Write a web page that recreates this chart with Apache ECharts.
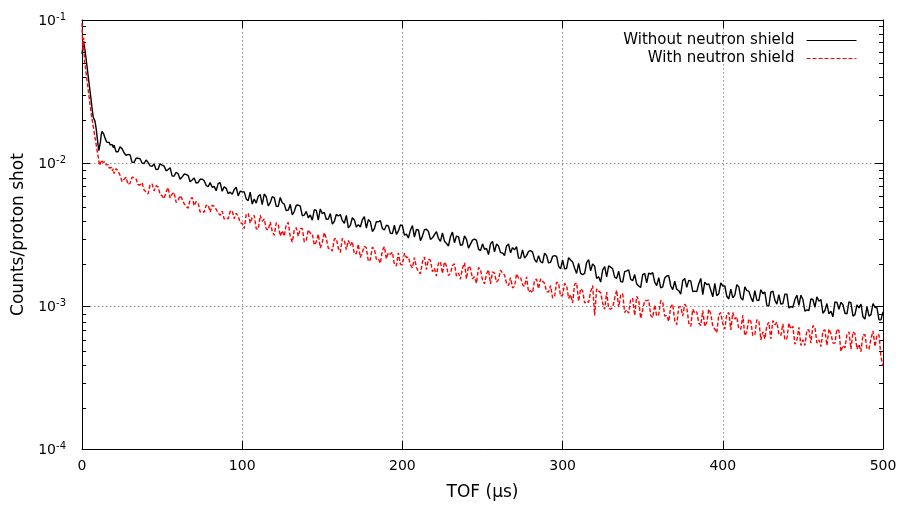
<!DOCTYPE html>
<html><head><meta charset="utf-8">
<script src="https://cdn.jsdelivr.net/npm/echarts@6/dist/echarts.min.js"></script>
<style>html,body{margin:0;padding:0;background:#fff}#c{width:901px;height:506px}</style>
</head><body><div id="c"></div>
<script>
// ---- data ----
const seriesNames = ['Without neutron shield', 'With neutron shield'];
const xTicks = [0, 100, 200, 300, 400, 500];
const yDecades = [1e-4, 1e-3, 1e-2, 1e-1];

const tofEarly = [
  0,0.5,1,1.5,2,2.5,3,3.5,4,4.5,
  5,5.5,6,6.5,7,7.5,8,8.5,9,9.5,
  10,10.5,11,11.5,12,12.5,13,13.5,14,14.5,
  15,15.5,16,16.5,17,17.5,18,18.5,19,19.5
];
const tofMain = [
  20,22.5,25,27.5,30,32.5,35,37.5,
  40,42.5,45,47.5,50,52.5,55,57.5,
  60,62.5,65,67.5,70,72.5,75,77.5,
  80,82.5,85,87.5,90,92.5,95,97.5,
  100,102.5,105,107.5,110,112.5,115,117.5,
  120,122.5,125,127.5,130,132.5,135,137.5,
  140,142.5,145,147.5,150,152.5,155,157.5,
  160,162.5,165,167.5,170,172.5,175,177.5,
  180,182.5,185,187.5,190,192.5,195,197.5,
  200,202.5,205,207.5,210,212.5,215,217.5,
  220,222.5,225,227.5,230,232.5,235,237.5,
  240,242.5,245,247.5,250,252.5,255,257.5,
  260,262.5,265,267.5,270,272.5,275,277.5,
  280,282.5,285,287.5,290,292.5,295,297.5,
  300,302.5,305,307.5,310,312.5,315,317.5,
  320,322.5,325,327.5,330,332.5,335,337.5,
  340,342.5,345,347.5,350,352.5,355,357.5,
  360,362.5,365,367.5,370,372.5,375,377.5,
  380,382.5,385,387.5,390,392.5,395,397.5,
  400,402.5,405,407.5,410,412.5,415,417.5,
  420,422.5,425,427.5,430,432.5,435,437.5,
  440,442.5,445,447.5,450,452.5,455,457.5,
  460,462.5,465,467.5,470,472.5,475,477.5,
  480,482.5,485,487.5,490,492.5,495,497.5,
  500
];
const tofMid = [
  21.25,23.75,26.25,28.75,31.25,33.75,36.25,38.75,
  41.25,43.75,46.25,48.75,51.25,53.75,56.25,58.75,
  61.25,63.75,66.25,68.75,71.25,73.75,76.25,78.75,
  81.25,83.75,86.25,88.75,91.25,93.75,96.25,98.75,
  101.25,103.75,106.25,108.75,111.25,113.75,116.25,118.75,
  121.25,123.75,126.25,128.75,131.25,133.75,136.25,138.75,
  141.25,143.75,146.25,148.75,151.25,153.75,156.25,158.75,
  161.25,163.75,166.25,168.75,171.25,173.75,176.25,178.75,
  181.25,183.75,186.25,188.75,191.25,193.75,196.25,198.75,
  201.25,203.75,206.25,208.75,211.25,213.75,216.25,218.75,
  221.25,223.75,226.25,228.75,231.25,233.75,236.25,238.75,
  241.25,243.75,246.25,248.75,251.25,253.75,256.25,258.75,
  261.25,263.75,266.25,268.75,271.25,273.75,276.25,278.75,
  281.25,283.75,286.25,288.75,291.25,293.75,296.25,298.75,
  301.25,303.75,306.25,308.75,311.25,313.75,316.25,318.75,
  321.25,323.75,326.25,328.75,331.25,333.75,336.25,338.75,
  341.25,343.75,346.25,348.75,351.25,353.75,356.25,358.75,
  361.25,363.75,366.25,368.75,371.25,373.75,376.25,378.75,
  381.25,383.75,386.25,388.75,391.25,393.75,396.25,398.75,
  401.25,403.75,406.25,408.75,411.25,413.75,416.25,418.75,
  421.25,423.75,426.25,428.75,431.25,433.75,436.25,438.75,
  441.25,443.75,446.25,448.75,451.25,453.75,456.25,458.75,
  461.25,463.75,466.25,468.75,471.25,473.75,476.25,478.75,
  481.25,483.75,486.25,488.75,491.25,493.75,496.25,498.75
];

const withoutEarly = [
  58e-3,64e-3,71e-3,69e-3,60e-3,54e-3,48.7e-3,43.8e-3,39.4e-3,35.4e-3,
  31.9e-3,28.7e-3,25.7e-3,23.2e-3,20.9e-3,20.3e-3,19.8e-3,18.5e-3,16.8e-3,15.0e-3,
  13.5e-3,12.2e-3,12.4e-3,14.0e-3,15.8e-3,16.6e-3,16.8e-3,16.0e-3,15.4e-3,14.8e-3,
  14.6e-3,14.0e-3,14.3e-3,13.7e-3,13.9e-3,13.4e-3,13.7e-3,13.1e-3,13.4e-3,12.8e-3
];
const withoutMain = [
  13.3e-3,12.0e-3,12.6e-3,11.3e-3,11.4e-3,10.1e-3,10.8e-3,10.0e-3,
  10.5e-3,9.54e-3,9.83e-3,9.04e-3,9.67e-3,8.82e-3,9.26e-3,8.10e-3,
  8.40e-3,7.97e-3,8.32e-3,7.39e-3,7.85e-3,7.31e-3,7.72e-3,6.98e-3,
  7.29e-3,6.86e-3,7.17e-3,6.34e-3,6.65e-3,6.25e-3,6.51e-3,5.89e-3,
  6.30e-3,5.61e-3,6.26e-3,5.59e-3,5.85e-3,5.11e-3,5.81e-3,5.28e-3,
  5.73e-3,4.98e-3,5.27e-3,4.64e-3,5.14e-3,4.58e-3,5.08e-3,4.28e-3,
  4.59e-3,4.33e-3,4.71e-3,3.98e-3,4.42e-3,4.03e-3,4.43e-3,3.90e-3,
  4.26e-3,3.96e-3,4.30e-3,3.66e-3,4.00e-3,3.71e-3,4.01e-3,3.51e-3,
  3.88e-3,3.47e-3,3.88e-3,3.48e-3,3.67e-3,3.22e-3,3.67e-3,3.35e-3,
  3.64e-3,3.18e-3,3.39e-3,3.03e-3,3.40e-3,3.08e-3,3.44e-3,2.92e-3,
  3.15e-3,2.97e-3,3.24e-3,2.74e-3,3.05e-3,2.77e-3,3.05e-3,2.68e-3,
  2.92e-3,2.71e-3,2.94e-3,2.50e-3,2.72e-3,2.53e-3,2.72e-3,2.39e-3,
  2.63e-3,2.35e-3,2.63e-3,2.35e-3,2.47e-3,2.16e-3,2.47e-3,2.25e-3,
  2.44e-3,2.12e-3,2.25e-3,2.00e-3,2.25e-3,2.02e-3,2.25e-3,1.90e-3,
  2.10e-3,1.83e-3,2.10e-3,1.84e-3,1.99e-3,1.66e-3,2.01e-3,1.76e-3,
  1.90e-3,1.60e-3,1.78e-3,1.60e-3,1.87e-3,1.59e-3,1.75e-3,1.47e-3,
  1.76e-3,1.54e-3,1.66e-3,1.38e-3,1.66e-3,1.45e-3,1.67e-3,1.47e-3,
  1.58e-3,1.36e-3,1.62e-3,1.38e-3,1.49e-3,1.28e-3,1.51e-3,1.35e-3,
  1.50e-3,1.27e-3,1.43e-3,1.20e-3,1.41e-3,1.29e-3,1.44e-3,1.22e-3,
  1.38e-3,1.17e-3,1.31e-3,1.19e-3,1.36e-3,1.10e-3,1.28e-3,1.15e-3,
  1.28e-3,1.09e-3,1.22e-3,1.01e-3,1.25e-3,1.10e-3,1.20e-3,1.04e-3,
  1.21e-3,0.99e-3,1.11e-3,1.01e-3,1.11e-3,0.94e-3,1.12e-3,0.98e-3,
  1.08e-3,0.89e-3,1.04e-3,0.92e-3,1.07e-3,0.95e-3,1.02e-3,0.88e-3,
  1.05e-3,0.87e-3,0.97e-3,0.84e-3,0.99e-3,0.87e-3,0.98e-3,0.80e-3,
  0.91e-3
];
const withoutMid = [
  12.0e-3,13.0e-3,11.8e-3,11.5e-3,10.1e-3,10.8e-3,10.7e-3,9.90e-3,
  10.1e-3,9.50e-3,8.98e-3,9.88e-3,9.51e-3,9.00e-3,8.12e-3,8.61e-3,
  7.69e-3,8.37e-3,8.17e-3,7.60e-3,7.24e-3,7.69e-3,7.51e-3,6.82e-3,
  6.76e-3,6.40e-3,7.30e-3,6.83e-3,6.11e-3,6.05e-3,6.78e-3,6.35e-3,
  6.28e-3,5.45e-3,5.16e-3,5.24e-3,6.01e-3,6.07e-3,5.01e-3,5.81e-3,
  4.97e-3,5.74e-3,5.16e-3,4.68e-3,4.34e-3,5.07e-3,4.99e-3,4.32e-3,
  4.14e-3,3.98e-3,4.66e-3,4.77e-3,4.52e-3,4.06e-3,3.74e-3,4.37e-3,
  4.36e-3,3.79e-3,3.52e-3,4.14e-3,3.57e-3,3.57e-3,4.21e-3,4.02e-3,
  3.32e-3,3.89e-3,3.95e-3,3.40e-3,3.63e-3,3.21e-3,3.17e-3,3.69e-3,
  3.13e-3,2.99e-3,3.65e-3,3.43e-3,2.86e-3,3.42e-3,3.32e-3,3.00e-3,
  3.31e-3,2.83e-3,2.84e-3,2.63e-3,3.29e-3,3.08e-3,2.66e-3,3.09e-3,
  2.54e-3,2.89e-3,2.88e-3,2.44e-3,2.49e-3,2.29e-3,2.83e-3,2.71e-3,
  2.36e-3,2.25e-3,2.71e-3,2.56e-3,2.60e-3,2.16e-3,2.16e-3,2.41e-3,
  2.38e-3,2.02e-3,2.04e-3,2.34e-3,2.00e-3,2.22e-3,2.22e-3,1.82e-3,
  1.82e-3,2.18e-3,2.03e-3,1.69e-3,1.69e-3,1.69e-3,2.11e-3,1.97e-3,
  1.56e-3,1.47e-3,1.89e-3,1.91e-3,1.82e-3,1.56e-3,1.48e-3,1.74e-3,
  1.79e-3,1.50e-3,1.43e-3,1.35e-3,1.69e-3,1.70e-3,1.71e-3,1.39e-3,
  1.34e-3,1.57e-3,1.63e-3,1.30e-3,1.31e-3,1.21e-3,1.56e-3,1.51e-3,
  1.26e-3,1.26e-3,1.56e-3,1.47e-3,1.43e-3,1.16e-3,1.18e-3,1.45e-3,
  1.38e-3,1.12e-3,1.14e-3,1.41e-3,1.14e-3,1.36e-3,1.27e-3,1.07e-3,
  1.10e-3,1.30e-3,1.25e-3,1.00e-3,1.27e-3,1.03e-3,1.03e-3,1.21e-3,
  0.97e-3,0.98e-3,1.19e-3,1.19e-3,0.92e-3,0.93e-3,1.11e-3,1.16e-3,
  1.11e-3,0.93e-3,0.88e-3,0.84e-3,1.06e-3,1.06e-3,0.89e-3,1.07e-3,
  0.85e-3,1.02e-3,1.03e-3,0.81e-3,0.85e-3,1.04e-3,0.97e-3,0.80e-3
];

const withEarly = [
  95e-3,62e-3,75e-3,52.7e-3,48e-3,43.2e-3,38.9e-3,35e-3,31.6e-3,28.5e-3,
  25.7e-3,23.3e-3,21.2e-3,19.6e-3,18.1e-3,16.7e-3,15.4e-3,14.2e-3,13.1e-3,12.1e-3,
  11.2e-3,10.3e-3,9.6e-3,10.0e-3,10.3e-3,10.5e-3,10.1e-3,10.4e-3,9.9e-3,10.2e-3,
  9.7e-3,9.9e-3,9.4e-3,9.7e-3,9.2e-3,9.5e-3,9.0e-3,9.3e-3,8.8e-3,9.1e-3
];
const withMain = [
  8.43e-3,8.79e-3,7.43e-3,7.95e-3,7.23e-3,7.90e-3,7.05e-3,7.28e-3,
  6.29e-3,7.01e-3,6.38e-3,6.80e-3,5.89e-3,6.28e-3,5.69e-3,6.24e-3,
  5.46e-3,5.59e-3,4.98e-3,5.55e-3,5.03e-3,5.24e-3,4.61e-3,5.05e-3,
  4.54e-3,4.97e-3,4.48e-3,4.60e-3,4.13e-3,4.58e-3,4.08e-3,4.25e-3,
  3.79e-3,4.35e-3,3.80e-3,4.30e-3,3.44e-3,3.92e-3,3.46e-3,3.87e-3,
  3.12e-3,3.70e-3,3.36e-3,3.70e-3,3.05e-3,3.39e-3,3.07e-3,3.48e-3,
  2.88e-3,3.22e-3,2.67e-3,3.18e-3,2.78e-3,2.97e-3,2.52e-3,2.94e-3,
  2.54e-3,2.97e-3,2.48e-3,2.65e-3,2.31e-3,2.71e-3,2.37e-3,2.54e-3,
  2.11e-3,2.50e-3,2.15e-3,2.45e-3,2.14e-3,2.30e-3,1.95e-3,2.35e-3,
  1.94e-3,2.18e-3,1.94e-3,2.18e-3,1.75e-3,2.03e-3,1.80e-3,2.09e-3,
  1.84e-3,1.99e-3,1.69e-3,1.91e-3,1.69e-3,1.97e-3,1.70e-3,1.84e-3,
  1.55e-3,1.84e-3,1.60e-3,1.86e-3,1.52e-3,1.68e-3,1.43e-3,1.70e-3,
  1.53e-3,1.70e-3,1.44e-3,1.58e-3,1.37e-3,1.57e-3,1.41e-3,1.60e-3,
  1.28e-3,1.51e-3,1.32e-3,1.49e-3,1.26e-3,1.39e-3,1.16e-3,1.44e-3,
  1.19e-3,1.39e-3,1.20e-3,1.42e-3,1.08e-3,1.28e-3,1.08e-3,1.26e-3,
  0.86e-3,1.27e-3,1.05e-3,1.25e-3,0.95e-3,1.13e-3,0.98e-3,1.22e-3,
  0.94e-3,1.11e-3,0.86e-3,1.10e-3,0.94e-3,1.09e-3,0.86e-3,1.02e-3,
  0.87e-3,1.07e-3,0.86e-3,0.99e-3,0.79e-3,0.98e-3,0.85e-3,0.98e-3,
  0.72e-3,0.89e-3,0.76e-3,0.93e-3,0.77e-3,0.88e-3,0.69e-3,0.87e-3,
  0.75e-3,0.88e-3,0.68e-3,0.81e-3,0.69e-3,0.86e-3,0.66e-3,0.78e-3,
  0.63e-3,0.79e-3,0.66e-3,0.73e-3,0.59e-3,0.74e-3,0.64e-3,0.75e-3,
  0.59e-3,0.69e-3,0.54e-3,0.71e-3,0.58e-3,0.68e-3,0.55e-3,0.71e-3,
  0.58e-3,0.67e-3,0.53e-3,0.64e-3,0.55e-3,0.67e-3,0.53e-3,0.63e-3,
  0.50e-3,0.64e-3,0.54e-3,0.63e-3,0.50e-3,0.59e-3,0.52e-3,0.63e-3,
  0.38e-3
];
const withMid = [
  9.13e-3,8.20e-3,7.69e-3,7.06e-3,7.95e-3,7.72e-3,7.01e-3,6.48e-3,
  6.08e-3,7.14e-3,6.94e-3,6.04e-3,5.63e-3,6.73e-3,6.07e-3,5.30e-3,
  5.92e-3,5.20e-3,4.83e-3,5.75e-3,5.38e-3,4.54e-3,4.52e-3,5.10e-3,
  5.07e-3,4.75e-3,4.31e-3,4.06e-3,4.07e-3,4.65e-3,4.45e-3,3.82e-3,
  3.48e-3,4.45e-3,4.18e-3,3.47e-3,4.31e-3,4.06e-3,3.40e-3,3.33e-3,
  3.82e-3,3.08e-3,3.08e-3,3.84e-3,2.80e-3,3.53e-3,3.49e-3,2.81e-3,
  3.41e-3,3.21e-3,2.81e-3,2.54e-3,3.26e-3,2.53e-3,2.42e-3,2.96e-3,
  2.37e-3,2.87e-3,2.88e-3,2.82e-3,2.33e-3,2.18e-3,2.62e-3,2.05e-3,
  2.58e-3,2.12e-3,1.99e-3,2.60e-3,2.36e-3,2.38e-3,1.91e-3,1.96e-3,
  2.34e-3,2.20e-3,1.85e-3,1.86e-3,1.68e-3,2.20e-3,2.12e-3,1.74e-3,
  1.62e-3,2.04e-3,2.03e-3,1.63e-3,1.92e-3,1.62e-3,1.54e-3,2.00e-3,
  1.90e-3,1.55e-3,1.44e-3,1.79e-3,1.43e-3,1.79e-3,1.73e-3,1.47e-3,
  1.78e-3,1.65e-3,1.39e-3,1.34e-3,1.68e-3,1.59e-3,1.37e-3,1.25e-3,
  1.24e-3,1.54e-3,1.55e-3,1.44e-3,1.25e-3,1.14e-3,1.47e-3,1.17e-3,
  1.44e-3,1.13e-3,1.05e-3,1.45e-3,1.32e-3,1.05e-3,1.06e-3,1.39e-3,
  1.32e-3,1.24e-3,0.95e-3,0.96e-3,0.98e-3,1.29e-3,1.19e-3,0.90e-3,
  0.89e-3,1.13e-3,1.17e-3,0.82e-3,1.09e-3,1.10e-3,0.83e-3,0.85e-3,
  1.09e-3,0.85e-3,0.78e-3,1.03e-3,0.74e-3,0.99e-3,1.03e-3,0.76e-3,
  0.95e-3,0.91e-3,0.73e-3,0.72e-3,0.95e-3,0.72e-3,0.65e-3,0.90e-3,
  0.69e-3,0.90e-3,0.90e-3,0.84e-3,0.69e-3,0.62e-3,0.81e-3,0.62e-3,
  0.80e-3,0.58e-3,0.59e-3,0.77e-3,0.79e-3,0.77e-3,0.62e-3,0.58e-3,
  0.76e-3,0.72e-3,0.58e-3,0.53e-3,0.53e-3,0.68e-3,0.73e-3,0.55e-3,
  0.52e-3,0.68e-3,0.69e-3,0.55e-3,0.69e-3,0.48e-3,0.51e-3,0.66e-3,
  0.66e-3,0.50e-3,0.48e-3,0.63e-3,0.50e-3,0.67e-3,0.63e-3,0.44e-3
];

// ---- build chart ----
const FONT = '"DejaVu Sans", "Liberation Sans", Arial, sans-serif';
const pairs = (xs, ys) => xs.map((x, i) => [x, ys[i]]);
const merged = (early, main, mid) =>
  pairs(tofEarly, early).concat(pairs(tofMain, main).concat(pairs(tofMid, mid)).sort((a, b) => a[0] - b[0]));

const minorTicks = [];
for (let d = 0; d < yDecades.length - 1; d++) {
  for (let k = 2; k <= 9; k++) minorTicks.push(+(yDecades[d] * k).toPrecision(3));
}

const gridBox = { left: 82, right: 18, top: 20, bottom: 54 };
const frameLine = { show: true, onZero: false, lineStyle: { color: '#000', width: 1 } };
const dotted = { show: true, lineStyle: { color: '#909090', width: 1, type: [1.5, 2.5] } };
const yMin = yDecades[0], yMax = yDecades[yDecades.length - 1];

const chart = echarts.init(document.getElementById('c'), null, { renderer: 'canvas' });
chart.setOption({
  animation: false,
  backgroundColor: '#fff',
  textStyle: { fontFamily: FONT },
  grid: [Object.assign({}, gridBox), Object.assign({}, gridBox)],
  legend: {
    orient: 'vertical', right: 39, top: 28, align: 'right',
    itemWidth: 50, itemHeight: 12, itemGap: 3,
    itemStyle: { opacity: 0 },
    lineStyle: { width: 1 },
    textStyle: { fontFamily: FONT, fontSize: 15, color: '#000', padding: [0, 7, 0, 0] },
    data: seriesNames
  },
  xAxis: [
    { gridIndex: 0, type: 'value', position: 'bottom', min: xTicks[0], max: xTicks[xTicks.length - 1], interval: 100,
      axisLine: frameLine,
      axisTick: { inside: true, length: 8, lineStyle: { color: '#000' } },
      axisLabel: { color: '#000', fontSize: 14, fontFamily: FONT, margin: 10 },
      splitLine: dotted,
      name: 'TOF (μs)', nameLocation: 'middle', nameGap: 35,
      nameTextStyle: { color: '#000', fontSize: 17, fontFamily: FONT } },
    { gridIndex: 0, type: 'value', position: 'top', min: xTicks[0], max: xTicks[xTicks.length - 1], interval: 100,
      axisLine: frameLine,
      axisTick: { inside: true, length: 8, lineStyle: { color: '#000' } },
      axisLabel: { show: false }, splitLine: { show: false } },
    { gridIndex: 1, type: 'value', position: 'bottom', min: 0, max: 500, show: false }
  ],
  yAxis: [
    { gridIndex: 0, type: 'log', logBase: 10, position: 'left', min: yMin, max: yMax,
      axisLine: frameLine,
      axisTick: { inside: true, length: 8, lineStyle: { color: '#000' } },
      axisLabel: {
        margin: 16, color: '#000',
        formatter: v => '{b|10}{s|' + Math.round(Math.log10(v)) + '}',
        rich: {
          b: { fontSize: 14, fontFamily: FONT, color: '#000', lineHeight: 16, verticalAlign: 'bottom' },
          s: { fontSize: 10, fontFamily: FONT, color: '#000', lineHeight: 16, verticalAlign: 'top', padding: [0, 0, 6, 0] }
        }
      },
      splitLine: dotted,
      name: 'Counts/proton shot', nameLocation: 'middle', nameGap: 54,
      nameTextStyle: { color: '#000', fontSize: 17, fontFamily: FONT } },
    { gridIndex: 0, type: 'log', logBase: 10, position: 'right', min: yMin, max: yMax,
      axisLine: frameLine,
      axisTick: { inside: true, length: 8, lineStyle: { color: '#000' } },
      axisLabel: { show: false }, splitLine: { show: false } },
    { gridIndex: 1, type: 'log', logBase: 10, position: 'left', min: yMin, max: yMax,
      axisLine: { show: false },
      axisTick: { inside: true, length: 4, customValues: minorTicks, lineStyle: { color: '#000' } },
      axisLabel: { show: false }, splitLine: { show: false } },
    { gridIndex: 1, type: 'log', logBase: 10, position: 'right', min: yMin, max: yMax,
      axisLine: { show: false },
      axisTick: { inside: true, length: 4, customValues: minorTicks, lineStyle: { color: '#000' } },
      axisLabel: { show: false }, splitLine: { show: false } }
  ],
  series: [
    { name: seriesNames[0], type: 'line', xAxisIndex: 0, yAxisIndex: 0,
      data: merged(withoutEarly, withoutMain, withoutMid), symbol: 'none', showSymbol: false,
      lineStyle: { color: '#000', width: 1.4 }, itemStyle: { color: '#000' }, z: 2 },
    { name: seriesNames[1], type: 'line', xAxisIndex: 0, yAxisIndex: 0,
      data: merged(withEarly, withMain, withMid), symbol: 'none', showSymbol: false,
      lineStyle: { color: '#ff0000', width: 1.4, type: [4, 2] }, itemStyle: { color: '#ff0000' }, z: 3 }
  ]
});
</script>
</body></html>
